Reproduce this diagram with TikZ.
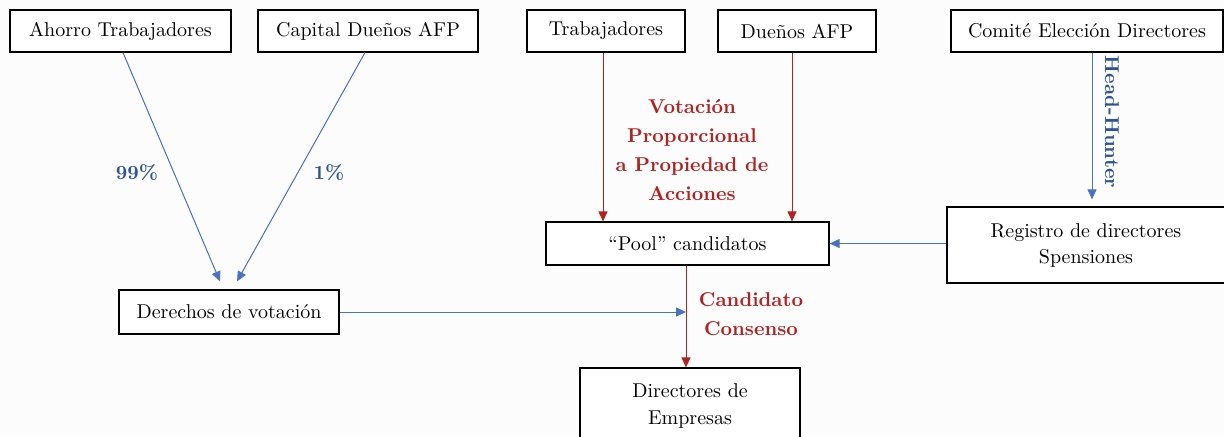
\documentclass[tikz,border=0pt]{standalone}
\usetikzlibrary{arrows.meta,calc}
\tikzset{
  caja/.style={
    draw=black,
    line width=0.6pt,
    fill=white,
    align=center,
    inner sep=2pt,
    minimum height=21pt
  },
  flecha/.style={
    line width=0.5pt,
    -{Triangle[length=5pt,width=4.5pt]}
  },
  flecha-azul/.style={flecha, draw=flujoazul, fill=flujoazul},
  flecha-roja/.style={flecha, draw=flujorojo, fill=flujorojo},
  etiqueta-azul/.style={text=textoazul, font=\bfseries, align=center},
  etiqueta-roja/.style={text=flujorojo, font=\bfseries, align=center}
}
\definecolor{flujoazul}{RGB}{74,114,196}
\definecolor{textoazul}{RGB}{47,84,150}
\definecolor{flujorojo}{RGB}{178,34,34}
\definecolor{fondo}{RGB}{252,252,252}

\begin{document}
\begin{tikzpicture}[x=0.5pt,y=-0.5pt]
  \fill[fondo] (0,0) rectangle (1224,436);
  \useasboundingbox (0,0) rectangle (1224,436);

  % --- Fila superior ---
  \node[caja, minimum width=110.5pt] (ahorro) at (120.5,31) {Ahorro Trabajadores};
  \node[caja, minimum width=110pt] (capital) at (368,31) {Capital Dueños AFP};
  \node[caja, minimum width=79pt] (trab) at (606,31) {Trabajadores};
  \node[caja, minimum width=79pt] (duenos) at (797,31) {Dueños AFP};
  \node[caja, minimum width=136pt] (comite) at (1087,31) {Comité Elección Directores};

  % --- Fila media ---
  \node[caja, minimum width=141.5pt, minimum height=21.5pt] (pool) at (687.5,243.5) {``Pool'' candidatos};
  \node[caja, minimum width=139pt, minimum height=38pt] (registro) at (1086,245)
    {Registro de directores\\[1pt]Spensiones};
  \node[caja, minimum width=110pt, minimum height=22pt] (derechos) at (229,312) {Derechos de votación};

  % --- Abajo (cortado por el borde) ---
  \node[caja, minimum width=110pt, minimum height=38pt] (directores) at (690,406)
    {Directores de\\[1.5pt]Empresas};

  % --- Derechos de voto ---
  \coordinate (llega-izq) at ($(derechos.north)+(-9,-8)$);
  \coordinate (llega-der) at ($(derechos.north)+(8,-8)$);
  \draw[flecha-azul] ($(ahorro.south)+(2.5,0)$) -- (llega-izq);
  \draw[flecha-azul] ($(capital.south)+(-3,0)$) -- (llega-der);
  \node[etiqueta-azul] (pct99) at (137,173) {99\%};
  \node[etiqueta-azul] (pct1) at (329,173) {1\%};

  % --- Votacion de candidatos ---
  \coordinate (sale-trab) at ($(trab.south)+(-3,0)$);
  \coordinate (sale-duenos) at ($(duenos.south)+(-5,0)$);
  \draw[flecha-roja] (sale-trab) -- (sale-trab |- pool.north);
  \draw[flecha-roja] (sale-duenos) -- (sale-duenos |- pool.north);
  \node[etiqueta-roja] (votacion) at (692,150)
    {Votación\\[2.5pt]Proporcional\\[2.5pt]a Propiedad de\\[2.5pt]Acciones};

  % --- Head-Hunter ---
  \coordinate (hh-fin) at ($(registro.north)+(6,-7)$);
  \draw[flecha-azul] ($(comite.south)+(5,0)$) -- (hh-fin);
  \node[etiqueta-azul, rotate=-90] (hh) at (1112,122) {Head-Hunter};
  \draw[flecha-azul] (registro.west |- pool.east) -- (pool.east);

  % --- Consenso ---
  \coordinate (sale-pool) at ($(pool.south)+(-1.5,0)$);
  \coordinate (cruce) at (sale-pool |- derechos.east);
  \draw[flecha-azul] (derechos.east) -- (cruce);
  \draw[flecha-roja] (sale-pool) -- (sale-pool |- directores.north);
  \node[etiqueta-roja] (consenso) at (751,314) {Candidato\\[2.5pt]Consenso};
\end{tikzpicture}
\end{document}
